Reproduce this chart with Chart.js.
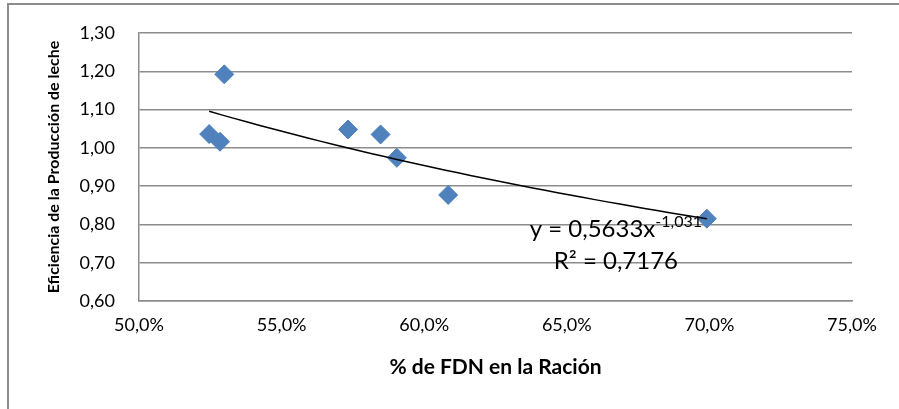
<!DOCTYPE html>
<html>
<head>
<meta charset="utf-8">
<script src="https://cdn.jsdelivr.net/npm/chart.js@4.4.0/dist/chart.umd.min.js"></script>
<style>
  html, body { margin: 0; padding: 0; background: #fff; }
  #wrap { width: 899px; height: 409px; position: relative; }
</style>
</head>
<body>
<div id="wrap"><canvas id="chart"></canvas></div>
<script>
// % FDN (as fraction) and milk production efficiency
const fdnValues = [0.5246, 0.5284, 0.5299, 0.5733, 0.5847, 0.5904, 0.6084, 0.6991];
const efficiencyValues = [1.036, 1.016, 1.192, 1.048, 1.035, 0.974, 0.877, 0.815];

// power trendline shown on the chart: y = 0,5633 x^-1,031
const fitA = 0.5633;
const fitB = -1.031;
const fitR2 = 0.7176;

const xTicks = [0.50, 0.55, 0.60, 0.65, 0.70, 0.75];
const yTicks = [0.60, 0.70, 0.80, 0.90, 1.00, 1.10, 1.20, 1.30];

const points = fdnValues.map((x, i) => ({ x: x, y: efficiencyValues[i] }));

// trendline sampled between smallest and largest x
const xMin = Math.min(...fdnValues);
const xMax = Math.max(...fdnValues);
const trend = [];
for (let i = 0; i <= 40; i++) {
  const x = xMin + (xMax - xMin) * i / 40;
  trend.push({ x: x, y: fitA * Math.pow(x, fitB) });
}

const fmt = (v, d) => v.toFixed(d).replace(".", ",");

const frame = {
  id: "frame",
  beforeDraw(chart) {
    const ctx = chart.ctx;
    ctx.save();
    ctx.fillStyle = "#ffffff";
    ctx.fillRect(0, 0, chart.width, chart.height);
    ctx.strokeStyle = "#8c8c8c";
    ctx.lineWidth = 2;
    ctx.strokeRect(8, 4, chart.width + 10, chart.height + 10);
    ctx.restore();
  }
};

const equation = {
  id: "equation",
  afterDatasetsDraw(chart) {
    const ctx = chart.ctx;
    const xs = chart.scales.x, ys = chart.scales.y;
    const cx = xs.getPixelForValue(0.6672);
    const y1 = ys.getPixelForValue(0.767);
    const y2 = ys.getPixelForValue(0.684);
    ctx.save();
    ctx.fillStyle = "#000";
    ctx.textBaseline = "alphabetic";
    const main = "y = " + fmt(fitA, 4) + "x";
    const sup = fmt(fitB, 3);
    ctx.font = "24px Lato";
    const wMain = ctx.measureText(main).width;
    ctx.font = "16px Lato";
    const wSup = ctx.measureText(sup).width;
    const start = cx - (wMain + wSup) / 2;
    ctx.font = "24px Lato";
    ctx.textAlign = "left";
    ctx.fillText(main, start, y1);
    ctx.font = "16px Lato";
    ctx.fillText(sup, start + wMain, y1 - 10);
    ctx.font = "24px Lato";
    ctx.textAlign = "center";
    ctx.fillText("R² = " + fmt(fitR2, 4), cx, y2);
    ctx.restore();
  }
};

new Chart(document.getElementById("chart"), {
  type: "scatter",
  data: {
    datasets: [
      {
        label: "Eficiencia",
        data: points,
        pointStyle: "rectRot",
        pointRadius: 9.5,
        pointHoverRadius: 9.5,
        backgroundColor: "#4F81BD",
        borderColor: "#4F81BD",
        borderWidth: 1,
        order: 2
      },
      {
        label: "Tendencia",
        type: "line",
        data: trend,
        borderColor: "#000000",
        borderWidth: 1.5,
        pointRadius: 0,
        fill: false,
        tension: 0,
        order: 1
      }
    ]
  },
  options: {
    responsive: true,
    maintainAspectRatio: false,
    animation: false,
    layout: { padding: { left: 44, top: 33, right: 47, bottom: 0 } },
    plugins: {
      legend: { display: false },
      tooltip: { enabled: false }
    },
    scales: {
      x: {
        type: "linear",
        min: 0.5,
        max: 0.75,
        afterBuildTicks: (s) => { s.ticks = xTicks.map(v => ({ value: v })); },
        afterFit: (s) => { s.height = 108; s.paddingLeft = 0; s.paddingRight = 0; },
        grid: { display: false, drawTicks: false },
        border: { display: true, color: "#8c8c8c", width: 1.5 },
        ticks: {
          padding: 13,
          color: "#000",
          font: { family: "Lato", size: 18 },
          callback: (v) => fmt(v * 100, 1) + "%"
        },
        title: {
          display: true,
          text: "% de FDN en la Ración",
          color: "#000",
          font: { family: "Lato", size: 21, weight: "bold" },
          padding: { top: 10, bottom: 29 }
        }
      },
      y: {
        min: 0.6,
        max: 1.3,
        afterBuildTicks: (s) => { s.ticks = yTicks.map(v => ({ value: v })); },
        afterFit: (s) => { s.width = 95; s.paddingTop = 0; s.paddingBottom = 0; },
        grid: { color: "#8c8c8c", lineWidth: 1.5, drawTicks: false },
        border: { display: true, color: "#8c8c8c", width: 1.5 },
        ticks: {
          padding: 24,
          color: "#000",
          font: { family: "Lato", size: 18 },
          callback: (v) => fmt(v, 2)
        },
        title: {
          display: true,
          text: "Eficiencia de la Producción de leche",
          color: "#000",
          font: { family: "Lato", size: 16, weight: "bold" },
          padding: { top: 0, bottom: 0 }
        }
      }
    }
  },
  plugins: [frame, equation]
});
</script>
</body>
</html>
